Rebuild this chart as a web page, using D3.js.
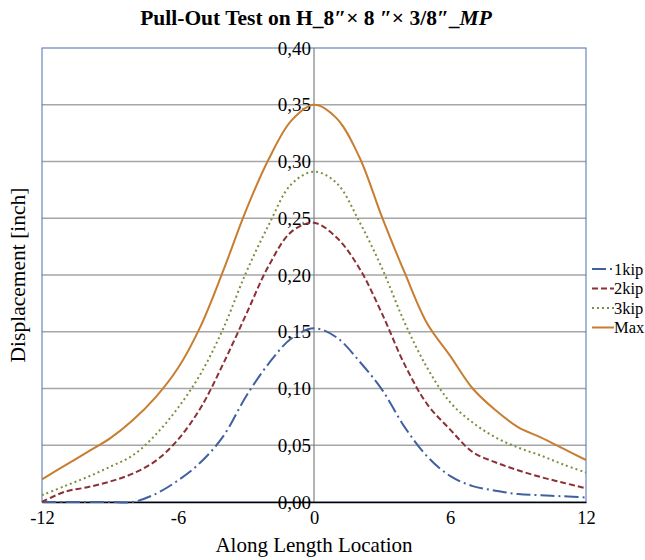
<!DOCTYPE html>
<html lang="en">
<head>
    <meta charset="UTF-8">
    <title>Pull-Out Test</title>
    <script src="https://d3js.org/d3.v7.min.js"></script>
</head>
<style>
    body { margin: 0; background: #fff; }
    svg text { font-family: "Liberation Serif", "Times New Roman", serif; fill: #000; }
</style>
<body>
<script>
    // positions along the length (x) and displacement per load step
    const locations = [-12, -11, -10, -9, -8, -7, -6, -5, -4, -3, -2, -1, 0, 1, 2, 3, 4, 5, 6, 7, 8, 9, 10, 11, 12]
    const kip1 = [0, 0, 0, 0, 0, 0.007, 0.019, 0.035, 0.058, 0.093, 0.122, 0.144, 0.153, 0.145, 0.124, 0.099, 0.066, 0.040, 0.023, 0.014, 0.010, 0.007, 0.006, 0.005, 0.004]
    const kip2 = [0, 0.009, 0.013, 0.018, 0.025, 0.036, 0.055, 0.083, 0.122, 0.165, 0.208, 0.238, 0.246, 0.233, 0.206, 0.166, 0.121, 0.086, 0.064, 0.044, 0.035, 0.028, 0.022, 0.017, 0.012]
    const kip3 = [0.006, 0.014, 0.022, 0.031, 0.041, 0.059, 0.083, 0.113, 0.153, 0.202, 0.244, 0.280, 0.291, 0.281, 0.247, 0.206, 0.158, 0.118, 0.088, 0.070, 0.057, 0.048, 0.041, 0.033, 0.026]
    const kipMax = [0.020, 0.032, 0.044, 0.056, 0.072, 0.092, 0.118, 0.155, 0.204, 0.257, 0.302, 0.336, 0.350, 0.338, 0.304, 0.251, 0.202, 0.157, 0.129, 0.100, 0.081, 0.066, 0.057, 0.047, 0.037]
    const xTicks = [-12, -6, 0, 6, 12]
    const yTicks = [0, 0.05, 0.10, 0.15, 0.20, 0.25, 0.30, 0.35, 0.40]

    const seriesList = [
        { name: "1kip", values: kip1, color: "#40609f", dash: "14,4,2,4" },
        { name: "2kip", values: kip2, color: "#8c3034", dash: "6,3" },
        { name: "3kip", values: kip3, color: "#77933c", dash: "2,3" },
        { name: "Max", values: kipMax, color: "#c87d30", dash: null }
    ]

    const margin = { top: 48, right: 59, bottom: 58, left: 42 }
    const width = 645 - margin.left - margin.right
    const height = 560 - margin.top - margin.bottom

    const x = d3.scaleLinear().domain([-12, 12]).range([0, width])
    const y = d3.scaleLinear().domain([0, 0.40]).range([height, 0])

    const svg = d3.select("body").append("svg")
        .attr("width", 645)
        .attr("height", 560)
    const g = svg.append("g")
        .attr("transform", "translate(" + margin.left + "," + margin.top + ")")

    // horizontal gridlines
    g.selectAll(".grid")
        .data(yTicks.slice(1, -1))
        .enter().append("line")
        .attr("x1", 0).attr("x2", width)
        .attr("y1", d => y(d)).attr("y2", d => y(d))
        .attr("stroke", "#a6a6a6")
        .attr("stroke-width", 1.5)

    // plot frame
    g.append("rect")
        .attr("width", width).attr("height", height)
        .attr("fill", "none")
        .attr("stroke", "#4f6fae")
        .attr("stroke-width", 1)

    // vertical axis at zero
    g.append("line")
        .attr("x1", x(0)).attr("x2", x(0))
        .attr("y1", 0).attr("y2", height)
        .attr("stroke", "#808080")
        .attr("stroke-width", 1.2)

    const fmt = d => d3.format(".2f")(d).replace(".", ",")
    const yAxis = d3.axisLeft(y).tickValues(yTicks).tickFormat(fmt).tickSize(0).tickPadding(3)
    g.append("g")
        .attr("transform", "translate(" + x(0) + ",0)")
        .call(yAxis)
        .call(a => a.select(".domain").remove())
        .selectAll("text")
        .style("font-size", "19px")

    const xAxis = d3.axisBottom(x).tickValues(xTicks).tickFormat(d => String(d)).tickSize(0).tickPadding(9)
    g.append("g")
        .attr("transform", "translate(0," + height + ")")
        .call(xAxis)
        .call(a => a.select(".domain").attr("stroke", "#000").attr("stroke-width", 1.5))
        .selectAll("text")
        .style("font-size", "18.5px")

    const line = d3.line()
        .x((d, i) => x(locations[i]))
        .y(d => y(Math.max(0, d)))
        .curve(d3.curveCatmullRom.alpha(0.5))

    seriesList.forEach(s => {
        g.append("path")
            .attr("d", line(s.values))
            .attr("fill", "none")
            .attr("stroke", s.color)
            .attr("stroke-width", 2)
            .attr("stroke-dasharray", s.dash)
    })

    // legend
    const legend = svg.append("g").attr("transform", "translate(592,269)")
    seriesList.forEach((s, i) => {
        const row = legend.append("g").attr("transform", "translate(0," + i * 19.5 + ")")
        row.append("line")
            .attr("x1", 0).attr("x2", 22)
            .attr("stroke", s.color)
            .attr("stroke-width", 2)
            .attr("stroke-dasharray", s.dash)
        row.append("text")
            .attr("x", 22).attr("y", 5.5)
            .style("font-size", "16.5px")
            .text(s.name)
    })

    // title
    const title = svg.append("text")
        .attr("x", 316).attr("y", 25)
        .attr("text-anchor", "middle")
        .style("font-size", "21.5px")
        .style("font-weight", "bold")
    title.append("tspan").text("Pull-Out Test on H_8″× 8 ″× 3/8″_")
    title.append("tspan").style("font-style", "italic").text("MP")

    svg.append("text")
        .attr("x", 314).attr("y", 552)
        .attr("text-anchor", "middle")
        .style("font-size", "21px")
        .text("Along Length Location")

    svg.append("text")
        .attr("transform", "rotate(-90)")
        .attr("x", -275).attr("y", 25)
        .attr("text-anchor", "middle")
        .style("font-size", "21.5px")
        .text("Displacement [inch]")
</script>
</body>
</html>
